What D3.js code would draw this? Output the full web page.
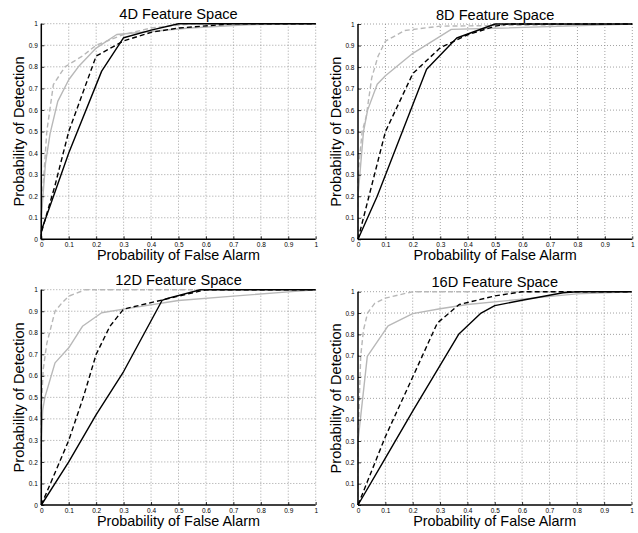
<!DOCTYPE html>
<html>
<head>
<meta charset="utf-8">
<script src="https://cdn.jsdelivr.net/npm/d3@7"></script>
<style>
  body { margin: 0; background: #fff; }
  svg { display: block; font-family: "Liberation Sans", Arial, Helvetica, sans-serif; }
</style>
</head>
<body>
<svg id="chart" width="638" height="533"></svg>
<script>
// ROC curves, [false alarm, detection]
const titles = ["4D Feature Space", "8D Feature Space", "12D Feature Space", "16D Feature Space"];
const ticks = [0, 0.1, 0.2, 0.3, 0.4, 0.5, 0.6, 0.7, 0.8, 0.9, 1];

const blackSolid4 = [[0,0],[0,0.04],[0.1,0.4],[0.22,0.78],[0.3,0.935],[0.4,0.97],[0.5,1],[1,1]];
const blackDash4  = [[0,0],[0,0.03],[0.05,0.25],[0.1,0.5],[0.2,0.85],[0.3,0.92],[0.4,0.96],[0.5,0.98],[0.7,1],[1,1]];
const graySolid4  = [[0,0],[0,0.1],[0.015,0.35],[0.032,0.49],[0.06,0.64],[0.1,0.74],[0.135,0.8],[0.2,0.887],[0.275,0.95],[0.54,0.98],[0.75,0.995],[1,1]];
const grayDash4   = [[0,0],[0,0.12],[0.02,0.5],[0.044,0.717],[0.086,0.8],[0.15,0.85],[0.2,0.9],[0.3,0.95],[0.4,0.98],[0.55,1],[1,1]];

const blackSolid8 = [[0,0],[0.07,0.2],[0.25,0.79],[0.36,0.935],[0.5,1],[1,1]];
const blackDash8  = [[0,0],[0.04,0.2],[0.1,0.5],[0.2,0.77],[0.3,0.89],[0.4,0.95],[0.5,0.99],[0.55,1],[1,1]];
const graySolid8  = [[0,0],[0,0.2],[0.02,0.5],[0.035,0.6],[0.07,0.72],[0.1,0.76],[0.2,0.864],[0.34,0.975],[0.5,0.98],[1,1]];
const grayDash8   = [[0,0],[0,0.3],[0.015,0.5],[0.03,0.57],[0.05,0.75],[0.073,0.85],[0.1,0.92],[0.17,0.97],[0.3,0.99],[1,1]];

const blackSolid12 = [[0,0],[0.1,0.2],[0.2,0.42],[0.3,0.62],[0.44,0.95],[0.46,0.96],[0.58,1],[1,1]];
const blackDash12  = [[0,0],[0.05,0.15],[0.1,0.3],[0.153,0.5],[0.2,0.7],[0.25,0.83],[0.3,0.91],[0.4,0.94],[0.5,0.97],[0.6,1],[1,1]];
const graySolid12  = [[0,0],[0,0.3],[0.005,0.44],[0.013,0.5],[0.05,0.66],[0.1,0.73],[0.15,0.83],[0.22,0.893],[0.3,0.91],[0.5,0.95],[0.7,0.97],[0.9,0.99],[1,1]];
const grayDash12   = [[0,0],[0,0.45],[0.007,0.63],[0.02,0.75],[0.05,0.9],[0.074,0.937],[0.1,0.97],[0.16,1],[1,1]];

const blackSolid16 = [[0,0],[0.1,0.22],[0.2,0.44],[0.368,0.8],[0.45,0.9],[0.5,0.935],[0.6,0.96],[0.75,0.995],[0.8,1],[1,1]];
const blackDash16  = [[0,0],[0.1,0.32],[0.2,0.6],[0.29,0.853],[0.37,0.94],[0.5,0.98],[0.6,1],[1,1]];
const graySolid16  = [[0,0],[0,0.3],[0.034,0.697],[0.11,0.84],[0.2,0.897],[0.3,0.92],[0.4,0.94],[0.6,0.965],[0.8,0.99],[1,1]];
const grayDash16   = [[0,0],[0,0.3],[0.01,0.7],[0.02,0.82],[0.035,0.9],[0.061,0.945],[0.1,0.97],[0.2,1],[1,1]];

const panelSeries = [
  [graySolid4, grayDash4, blackSolid4, blackDash4],
  [graySolid8, grayDash8, blackSolid8, blackDash8],
  [graySolid12, grayDash12, blackSolid12, blackDash12],
  [graySolid16, grayDash16, blackSolid16, blackDash16]
];

// plot boxes in pixels
const boxes = [
  {left: 41.3, right: 315.7, top: 23.7, bottom: 239.3},
  {left: 358,  right: 632.3, top: 24,   bottom: 239.3},
  {left: 41.3, right: 315.7, top: 289.7, bottom: 505},
  {left: 358,  right: 631.5, top: 291.7, bottom: 505}
];

const styles = [
  {stroke: "#b8b8b8", dash: null},
  {stroke: "#b8b8b8", dash: "5,3"},
  {stroke: "#000", dash: null},
  {stroke: "#000", dash: "5,3"}
];

const svg = d3.select("#chart");

boxes.forEach(function(b, i) {
  const x = d3.scaleLinear().domain([0, 1]).range([b.left, b.right]);
  const y = d3.scaleLinear().domain([0, 1]).range([b.bottom, b.top]);
  const g = svg.append("g");

  // dotted grid
  g.selectAll(".gx").data(ticks.slice(1)).enter().append("line")
    .attr("x1", d => x(d)).attr("x2", d => x(d))
    .attr("y1", b.top).attr("y2", b.bottom)
    .attr("stroke", "#8a8a8a").attr("stroke-width", 0.8)
    .attr("stroke-dasharray", "1,2");
  g.selectAll(".gy").data(ticks.slice(1)).enter().append("line")
    .attr("y1", d => y(d)).attr("y2", d => y(d))
    .attr("x1", b.left).attr("x2", b.right)
    .attr("stroke", "#8a8a8a").attr("stroke-width", 0.8)
    .attr("stroke-dasharray", "1,2");

  // curves
  const line = d3.line().x(d => x(d[0])).y(d => y(d[1]));
  panelSeries[i].forEach(function(s, k) {
    g.append("path")
      .datum(s)
      .attr("d", line)
      .attr("fill", "none")
      .attr("stroke", styles[k].stroke)
      .attr("stroke-width", 1.4)
      .attr("stroke-dasharray", styles[k].dash)
      .attr("stroke-linejoin", "round");
  });

  // axes, ticks pointing inward
  const xAxis = d3.axisBottom(x).tickValues(ticks).tickSize(-3).tickPadding(3)
    .tickFormat(d3.format("~g"));
  const yAxis = d3.axisLeft(y).tickValues(ticks).tickSize(-3).tickPadding(3.5)
    .tickFormat(d3.format("~g"));

  const gx = g.append("g").attr("transform", "translate(0," + b.bottom + ")").call(xAxis);
  const gy = g.append("g").attr("transform", "translate(" + b.left + ",0)").call(yAxis);
  [gx, gy].forEach(function(a) {
    a.select(".domain").attr("stroke-width", 1.5).attr("d",
      a === gx ? "M" + b.left + ",0H" + b.right : "M0," + b.bottom + "V" + b.top);
    a.selectAll(".tick line").attr("stroke-width", 0.8);
    a.selectAll("text").attr("font-size", 6.5).attr("fill", "#000")
      .attr("font-family", "'Liberation Sans', Arial, sans-serif");
  });

  // labels
  const cx = (b.left + b.right) / 2;
  const cy = (b.top + b.bottom) / 2;
  g.append("text").attr("x", cx).attr("y", b.top - 4.5)
    .attr("text-anchor", "middle").attr("font-size", 14.6).text(titles[i]);
  g.append("text").attr("x", cx).attr("y", b.bottom + 20.5)
    .attr("text-anchor", "middle").attr("font-size", 14.4).text("Probability of False Alarm");
  g.append("text")
    .attr("transform", "translate(" + (b.left - 17.5) + "," + cy + ") rotate(-90)")
    .attr("text-anchor", "middle").attr("font-size", 14.6).text("Probability of Detection");
});
</script>
</body>
</html>
